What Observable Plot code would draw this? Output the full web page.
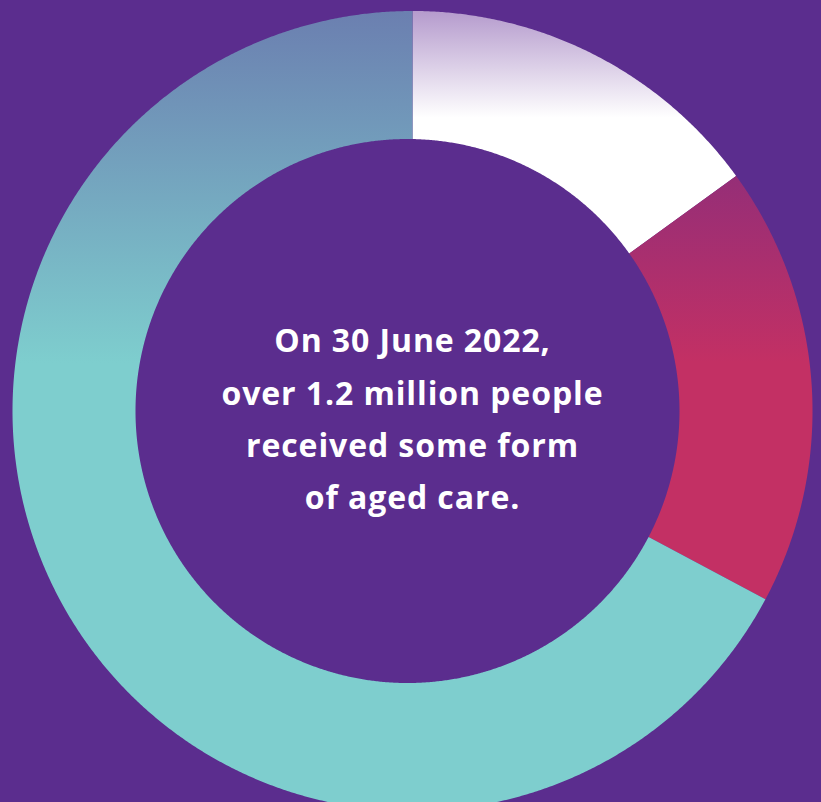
<!DOCTYPE html>
<html>
<head>
<meta charset="utf-8">
<script src="https://cdn.jsdelivr.net/npm/d3@7"></script>
<script src="https://cdn.jsdelivr.net/npm/@observablehq/plot@0.6"></script>
<style>
  html, body { margin: 0; padding: 0; background: #5b2d8e; overflow: hidden; }
  #chart svg { display: block; }
  #chart text { letter-spacing: 0.9px; }
</style>
</head>
<body>
<div id="chart"></div>
<script>
// Data (share of people receiving aged care, 30 June 2022)
const categories = ["Residential care", "Home care", "Home support"];
const shares = [15.0, 17.8, 67.2];
const sliceColors = [
  ["#b59bcd", "#ffffff"],
  ["#952e77", "#c33064"],
  ["#6b7fb0", "#7ecece"]
];
const centerLines = ["On 30 June 2022,", "over 1.2 million people", "received some form", "of aged care."];

const W = 821, H = 802;
const outerR = 1, innerR = 0.68;
const holeShift = -0.0125; // the hole sits slightly left of the pie centre in the original
const gradIds = categories.map((d, i) => "slice-grad-" + i);

// distance along a ray (angle t, clockwise from north) to the hole's edge
function innerDist(t) {
  const b = holeShift * Math.sin(t);
  return b + Math.sqrt(b * b - holeShift * holeShift + innerR * innerR);
}

// Build slice polygons from the data through d3.pie
const pie = d3.pie().sort(null).startAngle(0).endAngle(2 * Math.PI);
const arcs = pie(shares);
const polys = [];
arcs.forEach((a, i) => {
  const n = Math.max(8, Math.ceil((a.endAngle - a.startAngle) / 0.005));
  const pts = [];
  for (let k = 0; k <= n; k++) {
    const t = a.startAngle + (a.endAngle - a.startAngle) * k / n;
    pts.push({slice: i, x: outerR * Math.sin(t), y: outerR * Math.cos(t)});
  }
  for (let k = n; k >= 0; k--) {
    const t = a.startAngle + (a.endAngle - a.startAngle) * k / n;
    const s = innerDist(t);
    pts.push({slice: i, x: s * Math.sin(t), y: s * Math.cos(t)});
  }
  polys.push(pts);
});

// scale domains so that radius 1 = 400px, centre at (412, 410.5)
const pxPerUnit = 400, cx = 412, cy = 410.5;
const xDomain = [-cx / pxPerUnit, (W - cx) / pxPerUnit];
const yDomain = [-(H - cy) / pxPerUnit, cy / pxPerUnit];

const svg = Plot.plot({
  width: W,
  height: H,
  margin: 0,
  style: {background: "#5b2d8e", overflow: "hidden"},
  x: {domain: xDomain, axis: null},
  y: {domain: yDomain, axis: null},
  marks: [
    ...polys.map((pts, i) => Plot.line(pts, {
      x: "x", y: "y", curve: "linear-closed",
      fill: `url(#${gradIds[i]})`, stroke: "none"
    })),
    Plot.text([centerLines.join("\n")], {
      x: () => 0, y: () => 0, text: d => d,
      fill: "white",
      fontSize: 32,
      fontWeight: 700,
      fontFamily: "'Open Sans', sans-serif",
      lineHeight: 1.63,
      textAnchor: "middle",
      lineAnchor: "middle",
      dy: 3
    })
  ]
});

// gradient definitions
const ns = "http://www.w3.org/2000/svg";
const defs = document.createElementNS(ns, "defs");
sliceColors.forEach((c, i) => {
  const g = document.createElementNS(ns, "linearGradient");
  g.setAttribute("id", gradIds[i]);
  g.setAttribute("x1", "0"); g.setAttribute("y1", "0");
  g.setAttribute("x2", "0"); g.setAttribute("y2", "1");
  [[0, c[0]], [0.44, c[1]], [1, c[1]]].forEach(([o, col]) => {
    const s = document.createElementNS(ns, "stop");
    s.setAttribute("offset", o);
    s.setAttribute("stop-color", col);
    g.appendChild(s);
  });
  defs.appendChild(g);
});
svg.insertBefore(defs, svg.firstChild);

document.getElementById("chart").appendChild(svg);
</script>
</body>
</html>
